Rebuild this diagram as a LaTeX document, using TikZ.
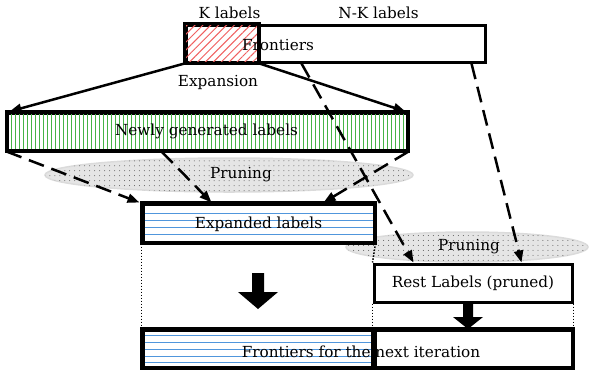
\documentclass[tikz,border=0pt]{standalone}
\usepackage{fontspec}
\setmainfont{DejaVu Serif}
\usetikzlibrary{arrows.meta,patterns.meta,shapes.geometric,calc}
\definecolor{hatchred}{RGB}{240,95,95}
\definecolor{hatchgreen}{RGB}{70,180,70}
\definecolor{hatchblue}{RGB}{80,150,220}
\tikzdeclarepattern{
  name=sparsedots,
  type=uncolored,
  bounding box={(-1pt,-1pt) and (1pt,1pt)},
  tile size={(5pt,5pt)},
  code={\pgfpathcircle{\pgfpointorigin}{0.5pt}\pgfusepath{fill}}
}
\tikzset{
  txt/.style={font=\fontsize{15.3}{18}\selectfont, inner sep=0pt},
  box/.style={draw, line width=3bp, rectangle, inner sep=0pt, preaction={fill=white}, font=\fontsize{15.3}{18}\selectfont},
  prune/.style={ellipse, inner sep=0pt, fill=gray!20, draw=gray!28, line width=1.5bp,
    postaction={pattern={sparsedots}, pattern color=black!65}},
  solidarr/.style={line width=2.5bp, -{Triangle[length=12bp,width=9bp]}},
  dasharr/.style={line width=2.5bp, dash pattern=on 16bp off 8bp, -{Triangle[length=12bp,width=9bp]}},
  dotline/.style={line width=1.5bp, dash pattern=on 1.5bp off 1.5bp},
  hgreen/.style={fill=hatchgreen},
  hblue/.style={draw=hatchblue, line width=1bp},
}
\begin{document}
\begin{tikzpicture}[x=1bp,y=-1bp]
\useasboundingbox (0,0) rectangle (589,370);
% ellipses
\node[prune, minimum width=368bp, minimum height=34bp] (ell1) at (229,175) {};
\node[prune, minimum width=242bp, minimum height=30bp] (ell2) at (467,247) {};
\node[txt] (pr1) at (241,175) {Pruning};
\node[txt] (pr2) at (469,247) {Pruning};
% top boxes
\node[box, minimum width=72bp, minimum height=37bp,
  postaction={pattern={Lines[angle=45,distance=5.6pt,line width=1pt]}, pattern color=hatchred}] (K) at (222,43.5) {};
\node[box, minimum width=227bp, minimum height=37bp] (NK) at (371.5,43.5) {};
\draw[line width=3bp] (K.north west) rectangle (K.south east);
\node[txt] (front) at (278,45) {Frontiers};
\node[txt] (klab) at (229.5,13) {K labels};
\node[txt] (nklab) at (378.5,13) {N-K labels};
\node[txt] (expn) at (218,82) {Expansion};
% newly generated
\node[box, minimum width=399bp, minimum height=37bp] (Newly) at (207.5,131.5) {};
\foreach \x in {11,15,...,405} \fill[hgreen] (\x,114) rectangle ++(1.1,35);
\draw[line width=3bp] (Newly.north west) rectangle (Newly.south east);
\node[txt] (newlytxt) at (206.5,131.5) {Newly generated labels};
% expanded
\node[box, minimum width=231bp, minimum height=38bp] (Exp) at (258.5,223) {};
\foreach \y in {213.5,220.5,227.5,234.5} \draw[hblue] (144.5,\y) -- (372.5,\y);
\draw[line width=3bp] (Exp.north west) rectangle (Exp.south east);
\node[txt] (exptxt) at (258.5,224) {Expanded labels};
% rest
\node[box, minimum width=198bp, minimum height=38bp] (Rest) at (473,283) {Rest Labels (pruned)};
% bottom
\node[box, minimum width=231bp, minimum height=37bp] (BotL) at (258.5,348.5) {};
\node[box, minimum width=198bp, minimum height=37bp] (BotR) at (473,348.5) {};
\foreach \y in {335.5,342.5,349.5,356.5,362.5} \draw[hblue] (144.5,\y) -- (372.5,\y);
\draw[line width=3bp] (BotL.north west) rectangle (BotL.south east);
\draw[line width=3bp] (BotR.north west) rectangle (BotR.south east);
\node[txt] (bottxt) at (361,352) {Frontiers for the next iteration};
% expansion arrows
\draw[solidarr] (K.south west) -- ($(Newly.north west)+(3,0)$);
\draw[solidarr] (K.south east) -- ($(Newly.north east)+(-3,0)$);
% dashed arrows
\draw[dasharr] ($(NK.south west)+(45,0)$) -- ($(Rest.north west)+(41,0)$);
\draw[dasharr] ($(NK.south east)+(-15,0)$) -- ($(Rest.north east)+(-52,0)$);
\draw[dasharr] (Newly.south west) -- ($(Exp.north west)+(-2,0)$);
\draw[dasharr] ($(Newly.south west)+(155,0)$) -- ($(Exp.north west)+(70,0)$);
\draw[dasharr] (Newly.south east) -- ($(Exp.north east)+(-52,0)$);
% dotted guides
\draw[dotline] (Exp.south west) -- (BotL.north west);
\draw[dotline] (Exp.south east) -- (Rest.north west);
\draw[dotline] (Rest.south west) -- (BotR.north west);
\draw[dotline] (Rest.south east) -- (BotR.north east);
% block arrows
\fill (252,273) -- (264,273) -- (264,292) -- (278,292) -- (258,309) -- (238,292) -- (252,292) -- cycle;
\fill (463,304) -- (473,304) -- (473,317) -- (483,317) -- (468,329) -- (453,317) -- (463,317) -- cycle;
\end{tikzpicture}
\end{document}
